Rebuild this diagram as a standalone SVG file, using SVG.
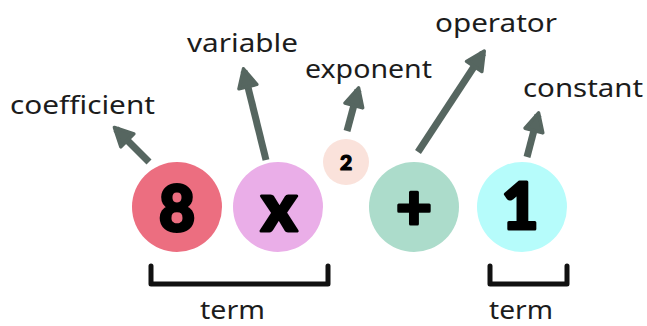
<svg xmlns="http://www.w3.org/2000/svg" width="647" height="326" viewBox="0 0 647 326">
  <style>
    .lbl { font-family: "Noto Sans", "Open Sans", sans-serif; font-size: 25px; fill: #1c1c1c; }
    .sym { font-family: Lato, "Noto Sans", sans-serif; font-weight: 900; fill: #000; stroke: #000; stroke-width: 3; stroke-linejoin: round; text-anchor: middle; }
    .arrow { stroke: #566660; stroke-width: 7; fill: none; marker-end: url(#head); }
    .bracket { stroke: #111; stroke-width: 5; fill: none; stroke-linejoin: round; stroke-linecap: round; }
  </style>
  <defs>
    <marker id="head" viewBox="0 0 10 10" refX="8" refY="5" markerWidth="23" markerHeight="23" markerUnits="userSpaceOnUse" orient="auto">
      <path d="M1,1 L9,5 L1,9 z" fill="#566660" stroke="#566660" stroke-width="1.5" stroke-linejoin="round"/>
    </marker>
  </defs>
  <rect width="647" height="326" fill="#fff"/>

  <g id="connectors">
    <line class="arrow" x1="149" y1="162" x2="116" y2="129"/>
    <line class="arrow" x1="266" y1="160" x2="244" y2="71"/>
    <line class="arrow" x1="347" y1="131" x2="358" y2="90"/>
    <line class="arrow" x1="418" y1="152" x2="483" y2="53"/>
    <line class="arrow" x1="527" y1="157" x2="538" y2="115"/>
  </g>

  <g id="node-8">
    <circle cx="177" cy="207" r="45" fill="#ec6e80"/>
    <text class="sym" x="177" y="231" font-size="62">8</text>
  </g>
  <g id="node-x">
    <circle cx="278" cy="207" r="45" fill="#eaaee8"/>
    <text class="sym" x="279" y="231" font-size="68">x</text>
  </g>
  <g id="node-2">
    <circle cx="346" cy="162" r="23" fill="#fae2db"/>
    <text class="sym" x="346" y="170" font-size="21" style="stroke-width:1.2">2</text>
  </g>
  <g id="node-plus">
    <circle cx="414" cy="207" r="45" fill="#acdccb"/>
    <text class="sym" x="414" y="229" font-size="62">+</text>
  </g>
  <g id="node-1">
    <circle cx="522" cy="207" r="45" fill="#b6fcfb"/>
    <text class="sym" x="520" y="229" font-size="64">1</text>
  </g>

  <g id="label-coefficient"><text class="lbl" x="10" y="114" textLength="145" lengthAdjust="spacingAndGlyphs">coefficient</text></g>
  <g id="label-variable"><text class="lbl" x="187" y="52" textLength="111" lengthAdjust="spacingAndGlyphs">variable</text></g>
  <g id="label-exponent"><text class="lbl" x="305" y="78" textLength="127" lengthAdjust="spacingAndGlyphs">exponent</text></g>
  <g id="label-operator"><text class="lbl" x="435" y="32" textLength="122" lengthAdjust="spacingAndGlyphs">operator</text></g>
  <g id="label-constant"><text class="lbl" x="523" y="97" textLength="120" lengthAdjust="spacingAndGlyphs">constant</text></g>

  <g id="term-1">
    <path class="bracket" d="M151,266 V284 H328 V266"/>
    <text class="lbl" x="200" y="319" textLength="65" lengthAdjust="spacingAndGlyphs">term</text>
  </g>
  <g id="term-2">
    <path class="bracket" d="M490,266 V284 H567 V266"/>
    <text class="lbl" x="489" y="319" textLength="64" lengthAdjust="spacingAndGlyphs">term</text>
  </g>
</svg>
